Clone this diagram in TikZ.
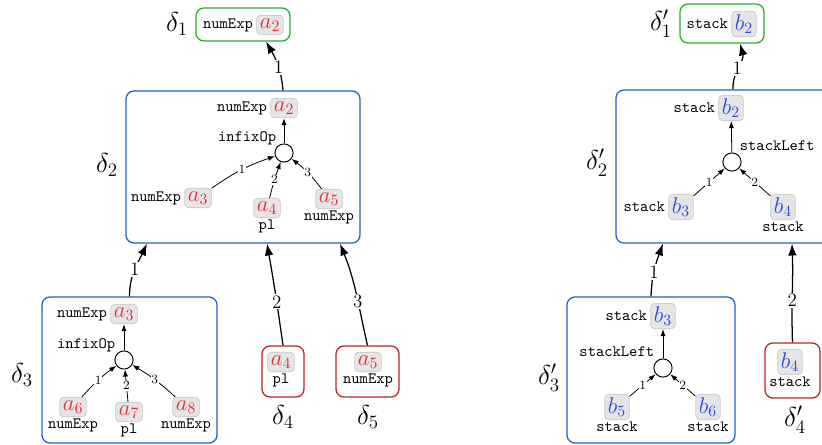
\documentclass[tikz,border=0pt]{standalone}
\usetikzlibrary{arrows.meta,positioning,fit,calc}
\definecolor{boxblue}{RGB}{30,95,205}
\definecolor{boxgreen}{RGB}{35,175,45}
\definecolor{boxred}{RGB}{185,35,40}
\definecolor{ared}{RGB}{230,45,55}
\definecolor{bblue}{RGB}{45,75,230}
\begin{document}
\begin{tikzpicture}[x=0.633pt,y=-0.633pt,
  tt/.style={font=\ttfamily, inner sep=1pt},
  gbox/.style={fill=black!10, draw=black!22, rounded corners=2.5pt, inner sep=2pt, font=\Large},
  abox/.style={gbox, text=ared},
  bbox/.style={gbox, text=bblue},
  circ/.style={circle, draw, minimum size=11.5pt, inner sep=0pt, line width=0.6pt},
  outerbox/.style={rounded corners=5pt, line width=0.8pt, inner sep=0pt},
  bluebox/.style={outerbox, draw=boxblue},
  greenbox/.style={outerbox, draw=boxgreen},
  redbox/.style={outerbox, draw=boxred},
  dlab/.style={font=\LARGE, inner sep=1pt},
  inarr/.style={-{Latex[length=4.5pt,width=3.2pt]}, line width=0.5pt},
  outarr/.style={-{Latex[length=7.5pt,width=5.5pt]}, line width=0.8pt},
  elab/.style={fill=white, inner sep=0.8pt, font=\large},
  ilab/.style={fill=white, inner sep=0.4pt, font=\footnotesize}]
\clip (0,0) rectangle (822,445);

% ---------- left: delta_1
\node[greenbox, fit={(196,8) (290,41)}] (d1) {};
\node[abox] (t1a) at (270,25) {$a_2$};
\node[tt, left=1pt of t1a] (t1t) {numExp};
\node[dlab] (l1) at (177,24) {$\delta_1$};

% ---------- delta_2
\node[bluebox, fit={(126,91) (360,243)}] (d2) {};
\node[dlab] (l2) at (107,165) {$\delta_2$};
\node[abox] (A2) at (284,108) {$a_2$};
\node[tt, left=1pt of A2] (A2t) {numExp};
\node[circ] (c2) at (284,153) {};
\node[tt, anchor=east] (op2) at (278,138) {infixOp};
\node[abox] (A3) at (198,198) {$a_3$};
\node[tt, left=1pt of A3] (A3t) {numExp};
\node[abox] (A4) at (267,208) {$a_4$};
\node[tt, below=0pt of A4] (A4t) {pl};
\node[abox] (A5) at (329,199) {$a_5$};
\node[tt, below=0pt of A5] (A5t) {numExp};
\draw[inarr] (c2) -- (A2);
\draw[inarr] (A3) to[bend left=8] node[ilab] {1} (c2);
\draw[inarr] (A4) to[bend left=3] node[ilab] {2} (c2);
\draw[inarr] (A5) to[bend right=8] node[ilab] {3} (c2);

% ---------- delta_3
\node[bluebox, fit={(42,297) (217,443)}] (d3) {};
\node[dlab] (l3) at (22,375) {$\delta_3$};
\node[abox] (B3) at (124,314) {$a_3$};
\node[tt, left=1pt of B3] (B3t) {numExp};
\node[circ] (c3) at (124,360) {};
\node[tt, anchor=east] (op3) at (117,345) {infixOp};
\node[abox] (A6) at (73,407) {$a_6$};
\node[tt, below=0pt of A6] (A6t) {numExp};
\node[abox] (A7) at (129,412) {$a_7$};
\node[tt, below=0pt of A7] (A7t) {pl};
\node[abox] (A8) at (186,407) {$a_8$};
\node[tt, below=0pt of A8] (A8t) {numExp};
\draw[inarr] (c3) -- (B3);
\draw[inarr] (A6) to[bend left=6] node[ilab] {1} (c3);
\draw[inarr] (A7) -- node[ilab] {2} (c3);
\draw[inarr] (A8) to[bend right=6] node[ilab] {3} (c3);

% ---------- delta_4, delta_5
\node[redbox, fit={(262,346) (304,397)}] (d4) {};
\node[abox] (C4) at (281,362) {$a_4$};
\node[tt, below=0pt of C4] (C4t) {pl};
\node[dlab] (l4) at (283,417) {$\delta_4$};
\node[redbox, fit={(336,346) (399,397)}] (d5) {};
\node[abox] (C5) at (368,362) {$a_5$};
\node[tt, below=0pt of C5] (C5t) {numExp};
\node[dlab] (l5) at (368,417) {$\delta_5$};

% ---------- outer edges left
\draw[outarr] ($(d2.north)+(40,0)$) to[out=95,in=-60] node[elab, pos=0.45] {1} ($(d1.south)+(23,0)$);
\draw[outarr] (d3.north) to[out=90,in=-115] node[elab, pos=0.5] {1} ($(d2.south)+(-96,0)$);
\draw[outarr] (d4.north) to[out=98,in=-80] node[elab, pos=0.42] {2} ($(d2.south)+(24,0)$);
\draw[outarr] (d5.north) to[out=103,in=-68] node[elab, pos=0.42] {3} ($(d2.south)+(97,0)$);

% ---------- right: delta'_1
\node[greenbox, fit={(680,4) (764,43)}] (e1) {};
\node[bbox] (u2) at (744,24) {$b_2$};
\node[tt, left=1pt of u2] (u2t) {stack};
\node[dlab] (m1) at (661,24) {$\delta'_1$};

% ---------- delta'_2
\node[bluebox, fit={(616,90) (840,243)}] (e2) {};
\node[dlab] (m2) at (597,163) {$\delta'_2$};
\node[bbox] (V2) at (731,108) {$b_2$};
\node[tt, left=1pt of V2] (V2t) {stack};
\node[circ] (c5) at (732,162) {};
\node[tt, anchor=west] (op5) at (738,146) {stackLeft};
\node[bbox] (V3) at (681,207) {$b_3$};
\node[tt, left=1pt of V3] (V3t) {stack};
\node[bbox] (V4) at (783,207) {$b_4$};
\node[tt, below=0pt of V4] (V4t) {stack};
\draw[inarr] (c5) -- (V2);
\draw[inarr] (V3) -- node[ilab] {1} (c5);
\draw[inarr] (V4) -- node[ilab] {2} (c5);

% ---------- delta'_3
\node[bluebox, fit={(567,297) (735,443)}] (e3) {};
\node[dlab] (m3) at (549,378) {$\delta'_3$};
\node[bbox] (W3) at (663,316) {$b_3$};
\node[tt, left=1pt of W3] (W3t) {stack};
\node[circ] (c6) at (663,368) {};
\node[tt, anchor=east] (op6) at (656,352) {stackLeft};
\node[bbox] (W5) at (617,407) {$b_5$};
\node[tt, below=0pt of W5] (W5t) {stack};
\node[bbox] (W6) at (708,407) {$b_6$};
\node[tt, below=0pt of W6] (W6t) {stack};
\draw[inarr] (c6) -- (W3);
\draw[inarr] (W5) -- node[ilab] {1} (c6);
\draw[inarr] (W6) -- node[ilab] {2} (c6);

% ---------- delta'_4
\node[redbox, fit={(765,343) (820,398)}] (e4) {};
\node[bbox] (X4) at (790,362) {$b_4$};
\node[tt, below=0pt of X4] (X4t) {stack};
\node[dlab] (m4) at (795,420) {$\delta'_4$};

% ---------- outer edges right
\draw[outarr] ($(e2.north)+(5,0)$) to[out=92,in=-75] node[elab, pos=0.45] {1} ($(e1.south)+(18,0)$);
\draw[outarr] (e3.north) to[out=88,in=-110] node[elab, pos=0.45] {1} ($(e2.south)+(-65,0)$);
\draw[outarr] (e4.north) to[out=92,in=-88] node[elab, pos=0.42] {2} ($(e2.south)+(64,0)$);
\end{tikzpicture}
\end{document}
